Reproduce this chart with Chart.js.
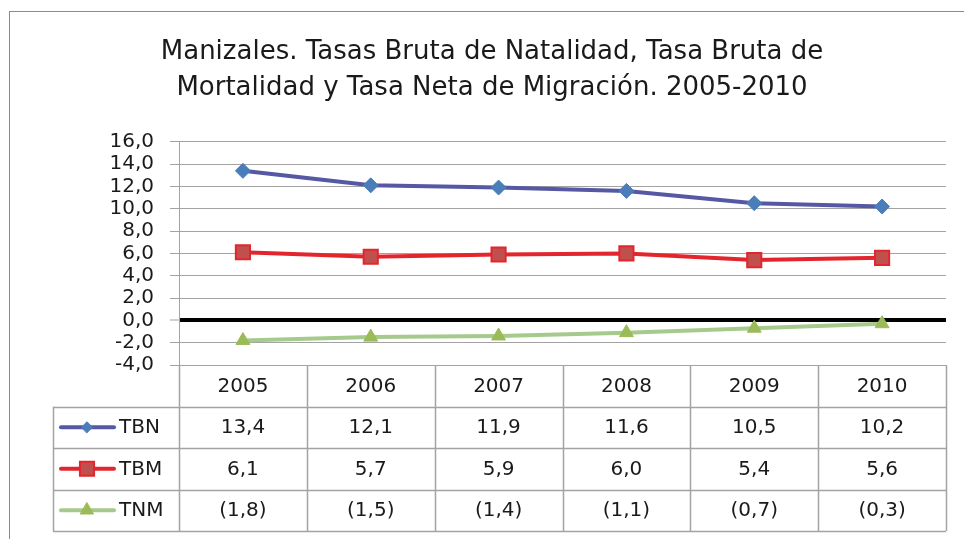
<!DOCTYPE html>
<html>
<head>
<meta charset="utf-8">
<script src="https://cdn.jsdelivr.net/npm/chart.js@4"></script>
<style>
  html, body { margin: 0; padding: 0; background: #fff; }
  #wrap { width: 964px; height: 539px; position: relative; }
</style>
</head>
<body>
<div id="wrap"><canvas id="data_chart" width="964" height="539"></canvas></div>
<script>
var years = ['2005', '2006', '2007', '2008', '2009', '2010'];
var tbn = [13.4, 12.1, 11.9, 11.6, 10.5, 10.2];
var tbm = [6.1, 5.7, 5.9, 6.0, 5.4, 5.6];
var tnm = [-1.8, -1.5, -1.4, -1.1, -0.7, -0.3];
var seriesNames = ['TBN', 'TBM', 'TNM'];
var titleLines = ['Manizales. Tasas Bruta de Natalidad, Tasa Bruta de',
                  'Mortalidad y Tasa Neta de Migración. 2005-2010'];

var FONT = "'DejaVu Sans', sans-serif";
var GRID = '#a3a3a3';

function fmt(v){
    var s = Math.abs(v).toFixed(1).replace('.', ',');
    return v < 0 ? '(' + s + ')' : s;
}

// outer frame, cut off at right/bottom like the reference
var framePlugin = {
    id: 'frame',
    beforeDraw(chart){
        var ctx = chart.ctx;
        ctx.save();
        ctx.fillStyle = '#fff';
        ctx.fillRect(0, 0, chart.width, chart.height);
        ctx.strokeStyle = '#8c8c8c';
        ctx.lineWidth = 1;
        ctx.strokeRect(9.5, 11.5, 1200, 1200);
        ctx.restore();
    }
};

// data table under the plot, columns taken from the x scale
var tablePlugin = {
    id: 'dataTable',
    afterDraw(chart){
        var ctx = chart.ctx;
        var x = chart.scales.x;
        var area = chart.chartArea;
        var colW = x.getPixelForValue(1) - x.getPixelForValue(0);
        var left = area.left, right = area.right;
        var keyLeft = 53;
        var rowH = 41.5;
        var top = area.bottom;
        var rowTops = [top, top + rowH, top + 2 * rowH, top + 3 * rowH];
        var bottom = top + 4 * rowH;

        ctx.save();
        ctx.strokeStyle = GRID;
        ctx.lineWidth = 1.5;
        ctx.beginPath();
        for (var r = 1; r <= 4; r++) {
            var yy = Math.round(top + r * rowH) + 0.5;
            ctx.moveTo(keyLeft, yy);
            ctx.lineTo(right, yy);
        }
        ctx.moveTo(keyLeft + 0.5, top + rowH);
        ctx.lineTo(keyLeft + 0.5, bottom);
        for (var i = 0; i <= years.length; i++) {
            var xx = Math.round(left + i * colW) + 0.5;
            ctx.moveTo(xx, top);
            ctx.lineTo(xx, bottom);
        }
        ctx.stroke();

        ctx.fillStyle = '#1a1a1a';
        ctx.font = '20px ' + FONT;
        ctx.textAlign = 'center';
        ctx.textBaseline = 'middle';
        var rows = [tbn, tbm, tnm];
        years.forEach(function(y, i){
            var cx = x.getPixelForValue(i);
            ctx.fillText(y, cx, top + rowH / 2 + 1);
            rows.forEach(function(vals, r){
                ctx.fillText(fmt(vals[i]), cx, rowTops[r + 1] + rowH / 2 + 1);
            });
        });

        // legend keys
        var keyRadius = [5.5, 10, 7.5];
        chart.data.datasets.forEach(function(ds, r){
            var cy = rowTops[r + 1] + rowH / 2;
            ctx.strokeStyle = ds.borderColor;
            ctx.lineWidth = 4;
            ctx.lineCap = 'round';
            ctx.beginPath();
            ctx.moveTo(61, cy);
            ctx.lineTo(114, cy);
            ctx.stroke();
            ctx.fillStyle = ds.pointBackgroundColor;
            ctx.strokeStyle = ds.pointBorderColor;
            ctx.lineWidth = ds.pointBorderWidth;
            Chart.helpers.drawPoint(ctx, {
                pointStyle: ds.pointStyle,
                radius: keyRadius[r],
                borderWidth: ds.pointBorderWidth
            }, 87, cy);
            ctx.fillStyle = '#1a1a1a';
            ctx.textAlign = 'left';
            ctx.fillText(ds.label, 119, cy + 1);
        });
        ctx.restore();
    }
};

var chart = new Chart('data_chart', {
    type: 'line',
    data: {
        labels: years,
        datasets: [{
            label: seriesNames[0],
            data: tbn,
            borderColor: '#5558a3',
            borderWidth: 4,
            pointStyle: 'rectRot',
            pointRadius: 7.5,
            pointBackgroundColor: '#4a7dba',
            pointBorderColor: '#4a7dba',
            pointBorderWidth: 1
        }, {
            label: seriesNames[1],
            data: tbm,
            borderColor: '#e3262e',
            borderWidth: 4,
            pointStyle: 'rect',
            pointRadius: 10,
            pointBackgroundColor: '#c0504d',
            pointBorderColor: '#e3262e',
            pointBorderWidth: 2
        }, {
            label: seriesNames[2],
            data: tnm,
            borderColor: '#a6c98c',
            borderWidth: 4,
            pointStyle: 'triangle',
            pointRadius: 8,
            pointBackgroundColor: '#9bbb59',
            pointBorderColor: '#9bbb59',
            pointBorderWidth: 1
        }]
    },
    options: {
        responsive: false,
        animation: false,
        layout: { padding: { left: 38, right: 18, top: 0, bottom: 174 } },
        plugins: {
            legend: { display: false },
            tooltip: { enabled: false },
            title: {
                display: true,
                text: titleLines,
                color: '#1a1a1a',
                font: { family: FONT, size: 26, weight: 'normal', lineHeight: 1.4 },
                padding: { top: 34, bottom: 35 }
            }
        },
        scales: {
            x: {
                type: 'category',
                display: false,
                offset: true
            },
            y: {
                min: -4,
                max: 16,
                afterFit(scale){ scale.width = 141; },
                ticks: {
                    stepSize: 2,
                    autoSkip: false,
                    color: '#1a1a1a',
                    padding: 16,
                    font: { family: FONT, size: 20, lineHeight: 1 },
                    callback: function(v){ return v.toFixed(1).replace('.', ','); }
                },
                grid: {
                    color: function(c){ return c.tick && c.tick.value === 0 ? '#000' : GRID; },
                    lineWidth: function(c){ return c.tick && c.tick.value === 0 ? 4 : 1; },
                    tickColor: GRID,
                    tickWidth: 1,
                    tickLength: 9
                },
                border: { display: true, color: GRID, width: 1 }
            }
        }
    },
    plugins: [framePlugin, tablePlugin]
});
</script>
</body>
</html>
